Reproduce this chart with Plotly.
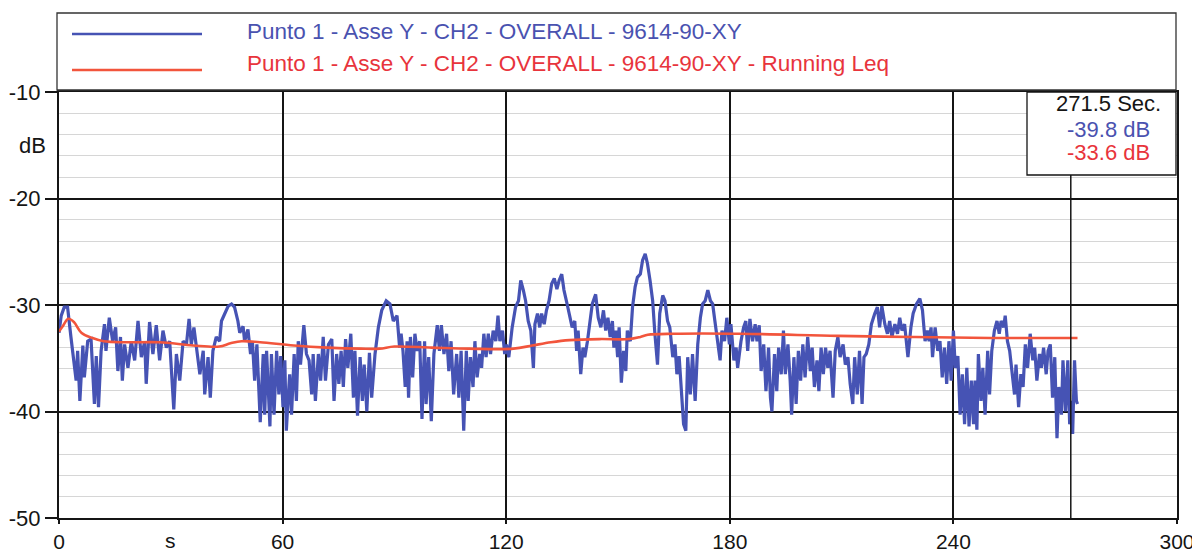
import plotly.graph_objects as go

# ---------------- data ----------------
time_s = [
    0.0, 0.6, 1.4, 2.3, 3.2, 4.6, 5.0, 5.6, 6.4, 6.8, 7.7, 8.6, 9.5, 10.0, 10.6, 11.3, 12.2, 12.6, 13.5, 14.4,
    15.2, 15.8, 16.5, 17.0, 17.6, 18.5, 19.4, 20.3, 21.2, 22.1, 23.0, 23.4, 24.3, 25.2, 26.1, 27.0, 27.9, 28.8,
    29.7, 30.8, 31.5, 32.4, 33.3, 34.2, 34.9, 35.5, 36.2, 36.9, 37.8, 38.7, 39.1, 40.0, 40.6, 41.3, 42.2, 43.1,
    43.6, 44.5, 45.4,
    46.3, 47.1, 48.0, 48.5, 49.4, 49.8, 50.7, 51.4, 51.9, 52.5, 53.1, 54.0, 54.8, 55.2, 55.7, 56.6, 57.0, 57.7,
    58.4, 59.0, 59.5, 60.1, 60.6, 61.0, 61.5, 61.9, 62.4, 63.1, 63.7, 64.2, 64.8, 65.7, 66.4, 67.1, 67.8, 68.2,
    68.8, 69.6, 70.2, 70.9, 71.5, 72.3, 73.2, 73.8, 74.5, 75.1, 75.7, 76.3, 76.9, 77.5, 78.3, 79.0, 79.4, 80.1,
    80.8, 81.4, 81.9, 82.6, 83.3, 83.9, 84.8, 85.7, 86.6, 87.8, 88.8, 89.7,
    90.7, 91.4, 91.8, 92.3, 92.9, 93.4, 93.8, 94.3, 94.9, 95.5, 96.1, 96.8, 97.4, 98.1, 98.5, 99.2, 99.9, 100.6,
    101.5, 102.1, 102.6, 103.3, 104.0, 104.6, 105.2, 105.9, 106.7, 107.3, 107.9, 108.6, 109.3, 109.8, 110.4,
    111.1, 111.6, 112.2, 112.9, 113.4, 114.0, 114.6, 115.2, 115.8, 116.5, 117.2, 117.8, 118.3, 119.0, 119.6,
    120.1, 120.7, 121.6, 122.5, 123.3, 123.9, 124.6, 125.2, 125.9, 126.6, 127.3, 127.7, 128.4, 129.0, 129.5,
    130.2, 130.8, 131.5, 132.2, 132.9, 133.6, 134.2, 134.9, 135.5,
    136.4, 137.3, 137.7, 138.4, 138.9, 139.3, 140.0, 140.6, 141.1, 141.8, 142.5, 143.1, 144.0, 144.7, 145.4,
    146.1, 146.7, 147.3, 147.9, 148.5, 148.9, 149.4, 149.9, 150.3, 150.9, 151.5, 152.1, 152.5, 153.3, 153.9,
    154.6, 155.2, 156.0, 156.6, 157.3, 157.9, 158.6, 159.3, 159.9, 160.6, 161.2, 162.0, 162.6, 163.3, 163.9,
    164.7, 165.3, 165.8, 166.4, 167.2, 167.6, 168.2, 168.7, 169.4, 170.0, 170.7, 171.4, 172.1, 172.7, 173.4,
    174.1, 174.8, 175.4, 176.0, 176.8, 177.4, 177.9, 178.6, 179.2, 179.9, 180.3, 181.1, 181.7,
    182.1, 183.0, 183.7, 184.3, 184.8, 185.4, 186.1, 186.8, 187.3, 187.9, 188.4, 189.1, 189.7, 190.4, 190.9,
    191.3, 192.0, 192.6, 193.1, 193.8, 194.4, 194.9, 195.6, 196.2, 196.6, 197.2, 197.8, 198.4, 199.0, 199.6,
    200.2, 200.9, 201.6, 202.1, 202.7, 203.4, 203.9, 204.5, 205.1, 205.7, 206.3, 206.9, 207.7, 208.3, 209.0,
    209.6, 210.4, 211.0, 211.7, 212.3, 213.0, 213.5, 214.2, 214.8, 215.5, 216.0, 216.6, 217.3, 218.0, 218.9,
    219.6, 220.2, 220.8, 221.6, 222.3, 222.9, 223.5, 224.3, 225.0, 225.6, 226.2, 226.9,
    227.8, 228.6, 229.2, 230.1, 231.0, 231.7, 232.4, 233.0, 233.5, 234.0, 234.4, 235.1, 235.8, 236.4, 237.0,
    237.6, 238.2, 238.8, 239.4, 240.0, 240.5, 241.2, 241.8, 242.4, 243.0, 243.6, 244.2, 244.8, 245.4, 245.8,
    246.3, 246.7, 247.4, 247.9, 248.5, 249.2, 249.7, 250.3, 251.0, 251.7, 252.3, 252.8, 253.5, 253.9, 254.5,
    255.1, 255.7, 256.4, 256.8, 257.5, 258.1, 258.7, 259.3, 259.9, 260.6, 261.3, 261.8, 262.4, 263.1, 263.6,
    264.2, 264.9, 265.4, 266.0, 266.6, 267.2, 267.8, 268.3, 269.0, 269.4, 270.1, 270.7, 271.2, 271.6, 272.0,
    272.5, 273.0, 273.3,
]
level_db = [
    -32.6, -31.0, -30.2, -30.2, -33.0, -37.1, -34.3, -39.0, -33.8, -36.8, -33.4, -33.2, -39.3, -34.8, -39.6, -34.3, -31.8, -34.3, -31.2, -33.4,
    -32.1, -36.2, -33.0, -37.1, -33.7, -35.9, -33.4, -35.2, -31.5, -34.9, -33.4, -37.4, -31.6, -34.6, -31.9, -35.2, -32.4, -34.0,
    -33.4, -39.8, -34.6, -37.1, -33.4, -33.7, -31.3, -33.7, -32.1, -34.3, -36.5, -34.3, -38.4, -34.9, -38.7, -34.3, -33.0, -33.4,
    -31.5, -30.8, -30.1,
    -29.9, -30.2, -31.5, -32.6, -32.0, -33.4, -32.3, -34.6, -33.4, -37.1, -33.7, -41.0, -34.6, -40.3, -34.3, -41.4, -34.6, -40.3,
    -34.3, -38.4, -34.8, -39.6, -35.2, -41.8, -38.7, -36.5, -40.3, -34.6, -39.0, -33.4, -35.6, -31.9, -34.6, -35.2, -38.4, -34.6,
    -39.0, -34.6, -37.1, -33.0, -37.1, -33.7, -33.2, -39.0, -34.6, -37.4, -34.3, -37.7, -33.2, -35.9, -32.7, -38.7, -34.3, -40.4,
    -34.9, -39.0, -35.6, -40.0, -34.5, -38.7, -34.6, -32.1, -30.5, -29.6, -29.9, -31.5,
    -31.0, -34.0, -32.7, -34.3, -37.7, -33.4, -38.7, -33.0, -36.8, -32.7, -34.3, -33.4, -40.7, -33.4, -39.3, -34.9, -40.9, -34.6,
    -31.9, -34.3, -31.9, -34.6, -32.7, -36.2, -33.4, -38.4, -34.6, -38.7, -34.3, -41.8, -34.3, -39.0, -34.9,
    -37.7, -33.4, -36.8, -34.6, -35.9, -32.7, -34.9, -32.7, -34.6, -32.4, -33.4, -31.0, -33.4, -32.4, -34.6,
    -33.7, -34.9, -32.1, -30.2, -29.6, -27.7, -28.6, -29.6, -31.5, -32.4, -35.9, -31.8, -30.8, -32.1, -30.8,
    -31.8, -30.5, -29.6, -28.0, -27.5, -28.5, -27.7, -27.1, -28.6,
    -30.0, -31.5, -32.1, -31.5, -34.3, -32.4, -36.5, -34.0, -34.9, -33.4, -31.2, -29.9, -29.0, -31.2, -32.1,
    -30.5, -32.4, -31.2, -33.0, -31.5, -34.0, -32.4, -34.9, -32.1, -37.3, -34.3, -36.2, -32.4, -33.4, -30.2,
    -28.3, -27.4, -27.1, -25.8, -25.2, -26.1, -27.7, -29.6, -32.7, -35.6, -30.8, -29.1, -29.6, -31.5, -32.1,
    -34.9, -33.7, -36.5, -34.8, -38.7, -41.2, -41.8, -34.9, -38.4, -34.6, -39.0, -33.7, -31.2, -29.9, -29.6,
    -28.6, -29.6, -29.9, -31.5, -33.4, -35.2, -32.4, -33.4, -31.2, -33.7, -31.8, -35.2, -34.0,
    -35.9, -33.4, -32.1, -31.5, -34.3, -31.3, -33.4, -31.8, -33.4, -31.9, -36.2, -33.7, -38.1, -34.0, -38.7,
    -40.0, -34.6, -38.1, -34.0, -36.5, -32.4, -36.5, -33.7, -37.1, -40.3, -34.9, -39.3, -34.3, -37.1, -33.7,
    -36.8, -33.0, -36.2, -34.0, -37.7, -35.2, -38.1, -34.0, -36.5, -34.0, -35.9, -34.3, -38.7, -34.3, -33.0,
    -34.9, -33.7, -35.6, -34.9, -37.4, -39.3, -34.9, -38.4, -34.3, -39.3, -34.9, -34.6, -33.7, -31.8, -30.8,
    -30.2, -32.1, -30.1, -31.8, -32.7, -31.5, -33.0, -31.8, -32.7, -31.2, -32.4, -31.8,
    -34.9, -32.1, -30.8, -29.9, -29.4, -30.5, -33.4, -32.4, -33.4, -32.1, -34.9, -32.1, -34.3, -33.4, -36.8,
    -34.0, -37.4, -33.4, -37.1, -32.4, -35.9, -34.8, -40.3, -36.5, -41.2, -35.9, -41.4, -37.1, -41.2, -37.1,
    -41.7, -34.6, -39.0, -35.9, -40.3, -34.3, -38.4, -34.3, -32.4, -31.5, -32.7, -31.5, -32.1, -31.0, -33.4,
    -34.3, -36.5, -38.4, -35.6, -39.6, -36.5, -37.7, -33.7, -35.9, -32.7, -35.2, -34.0, -37.1, -34.6, -35.9,
    -34.0, -36.5, -34.3, -33.7, -38.7, -34.9, -42.5, -37.7, -40.3, -35.2, -40.0, -35.2, -41.2, -39.0, -42.1,
    -35.2, -39.0, -39.3,
]
leq_time_s = [0, 1, 2.5, 4, 6, 9, 12, 18, 27, 36, 43, 46, 49, 54, 63, 72, 81, 86, 90, 100, 110, 122, 127,
              132, 137, 145, 153, 156, 158, 165, 183, 209, 229, 250, 273.3]
leq_db = [-32.5, -32.0, -31.3, -31.6, -32.6, -33.1, -33.4, -33.5, -33.5, -33.8, -33.9, -33.6, -33.4, -33.5,
          -33.8, -34.0, -34.1, -34.1, -33.9, -34.0, -34.1, -34.1, -33.8, -33.5, -33.3, -33.2, -33.2, -33.0,
          -32.8, -32.7, -32.7, -32.9, -33.0, -33.1, -33.1]

x_ticks = [0, 60, 120, 180, 240, 300]
x_tick_text = ["0", "60", "120", "180", "240", "300"]
y_ticks = [-50, -40, -30, -20, -10]
y_tick_text = ["-50", "-40", "-30", "-20", "-10"]
series_names = ["Punto 1 - Asse Y - CH2 - OVERALL - 9614-90-XY",
                "Punto 1 - Asse Y - CH2 - OVERALL - 9614-90-XY - Running Leq"]
cursor_time = 271.5
cursor_texts = ["271.5 Sec.", "-39.8 dB", "-33.6 dB"]
x_unit = "s"
y_unit = "dB"

# ---------------- styling ----------------
BLUE = "#4653b4"
RED = "#f2553c"
BLUE_TXT = "#4a52b0"
RED_TXT = "#e8343c"
INK = "#151515"
FONT = "Liberation Sans, Arial, sans-serif"

OFF = 8  # the page body margin shifts the figure by 8 px
W, H = 1200 - OFF, 553 - OFF
PLOT_L, PLOT_R, PLOT_T, PLOT_B = 59, 1177, 92, 518  # window pixels of the plot frame
L, R = PLOT_L - OFF, W - (PLOT_R - OFF)
T, B = PLOT_T - OFF, H - (PLOT_B - OFF)
PW, PH = W - L - R, H - T - B


def px(x):
    """window x pixel -> paper coordinate"""
    return (x - OFF - L) / PW


def py(y):
    """window y pixel -> paper coordinate"""
    return (H - B - (y - OFF)) / PH


fig = go.Figure()
fig.add_trace(go.Scatter(x=time_s, y=level_db, mode="lines", name=series_names[0],
                         line=dict(color=BLUE, width=3.2), hoverinfo="skip"))
fig.add_trace(go.Scatter(x=leq_time_s, y=leq_db, mode="lines", name=series_names[1],
                         line=dict(color=RED, width=2.6, shape="spline"), hoverinfo="skip"))

shapes = []
# legend box
shapes.append(dict(type="rect", xref="paper", yref="paper", x0=px(57), x1=px(1176), y0=py(90), y1=py(13),
                   line=dict(color="#333", width=1.3), fillcolor="rgba(0,0,0,0)"))
shapes.append(dict(type="line", xref="paper", yref="paper", x0=px(72), x1=px(202), y0=py(34), y1=py(34),
                   line=dict(color=BLUE, width=2.5)))
shapes.append(dict(type="line", xref="paper", yref="paper", x0=px(72), x1=px(202), y0=py(70), y1=py(70),
                   line=dict(color=RED, width=2.5)))
# cursor line
shapes.append(dict(type="line", xref="x", yref="paper", x0=cursor_time, x1=cursor_time, y0=0, y1=py(175),
                   line=dict(color=INK, width=1.5), layer="above"))
# info box
shapes.append(dict(type="rect", xref="paper", yref="paper", x0=px(1027), x1=px(1176), y0=py(175), y1=1,
                   line=dict(color=INK, width=1.3), fillcolor="white", layer="above"))

annotations = [
    dict(text=series_names[0], x=px(245), y=py(31), xref="paper", yref="paper", xanchor="left",
         yanchor="middle", showarrow=False, font=dict(family=FONT, size=22.5, color=BLUE_TXT)),
    dict(text=series_names[1], x=px(245), y=py(64), xref="paper", yref="paper", xanchor="left",
         yanchor="middle", showarrow=False, font=dict(family=FONT, size=22.5, color=RED_TXT)),
    dict(text=cursor_texts[0], x=px(1108), y=py(104), xref="paper", yref="paper", xanchor="center",
         yanchor="middle", showarrow=False, font=dict(family=FONT, size=22, color=INK)),
    dict(text=cursor_texts[1], x=px(1108), y=py(129), xref="paper", yref="paper", xanchor="center",
         yanchor="middle", showarrow=False, font=dict(family=FONT, size=22, color=BLUE_TXT)),
    dict(text=cursor_texts[2], x=px(1108), y=py(153), xref="paper", yref="paper", xanchor="center",
         yanchor="middle", showarrow=False, font=dict(family=FONT, size=22, color=RED_TXT)),
    dict(text=y_unit, x=px(32), y=py(145), xref="paper", yref="paper", xanchor="center",
         yanchor="middle", showarrow=False, font=dict(family=FONT, size=22, color=INK)),
    dict(text=x_unit, x=px(170), y=py(540), xref="paper", yref="paper", xanchor="center",
         yanchor="middle", showarrow=False, font=dict(family=FONT, size=21, color=INK)),
]

fig.update_layout(
    width=W, height=H, autosize=False,
    margin=dict(l=L, r=R, t=T, b=B, pad=0, autoexpand=False),
    paper_bgcolor="white", plot_bgcolor="white",
    showlegend=False,
    shapes=shapes, annotations=annotations,
    xaxis=dict(range=[0, 300], tickvals=x_ticks, ticktext=x_tick_text, automargin=False,
               showgrid=True, gridcolor=INK, gridwidth=2,
               showline=True, linecolor=INK, linewidth=2, mirror=True,
               ticks="outside", ticklen=4, tickwidth=1.5, tickcolor=INK,
               tickfont=dict(family=FONT, size=21, color=INK), zeroline=False, fixedrange=True),
    yaxis=dict(range=[-50, -10], tickvals=y_ticks, ticktext=y_tick_text, automargin=False,
               showgrid=True, gridcolor=INK, gridwidth=2,
               minor=dict(tickmode="linear", tick0=-50, dtick=2, showgrid=True, gridcolor="#d6d6d6",
                          gridwidth=1, ticklen=0),
               showline=True, linecolor=INK, linewidth=2, mirror=True,
               ticks="outside", ticklen=12, tickwidth=1.5, tickcolor=INK,
               tickfont=dict(family=FONT, size=22, color=INK), zeroline=False, fixedrange=True),
)

fig.write_html("out.html")
